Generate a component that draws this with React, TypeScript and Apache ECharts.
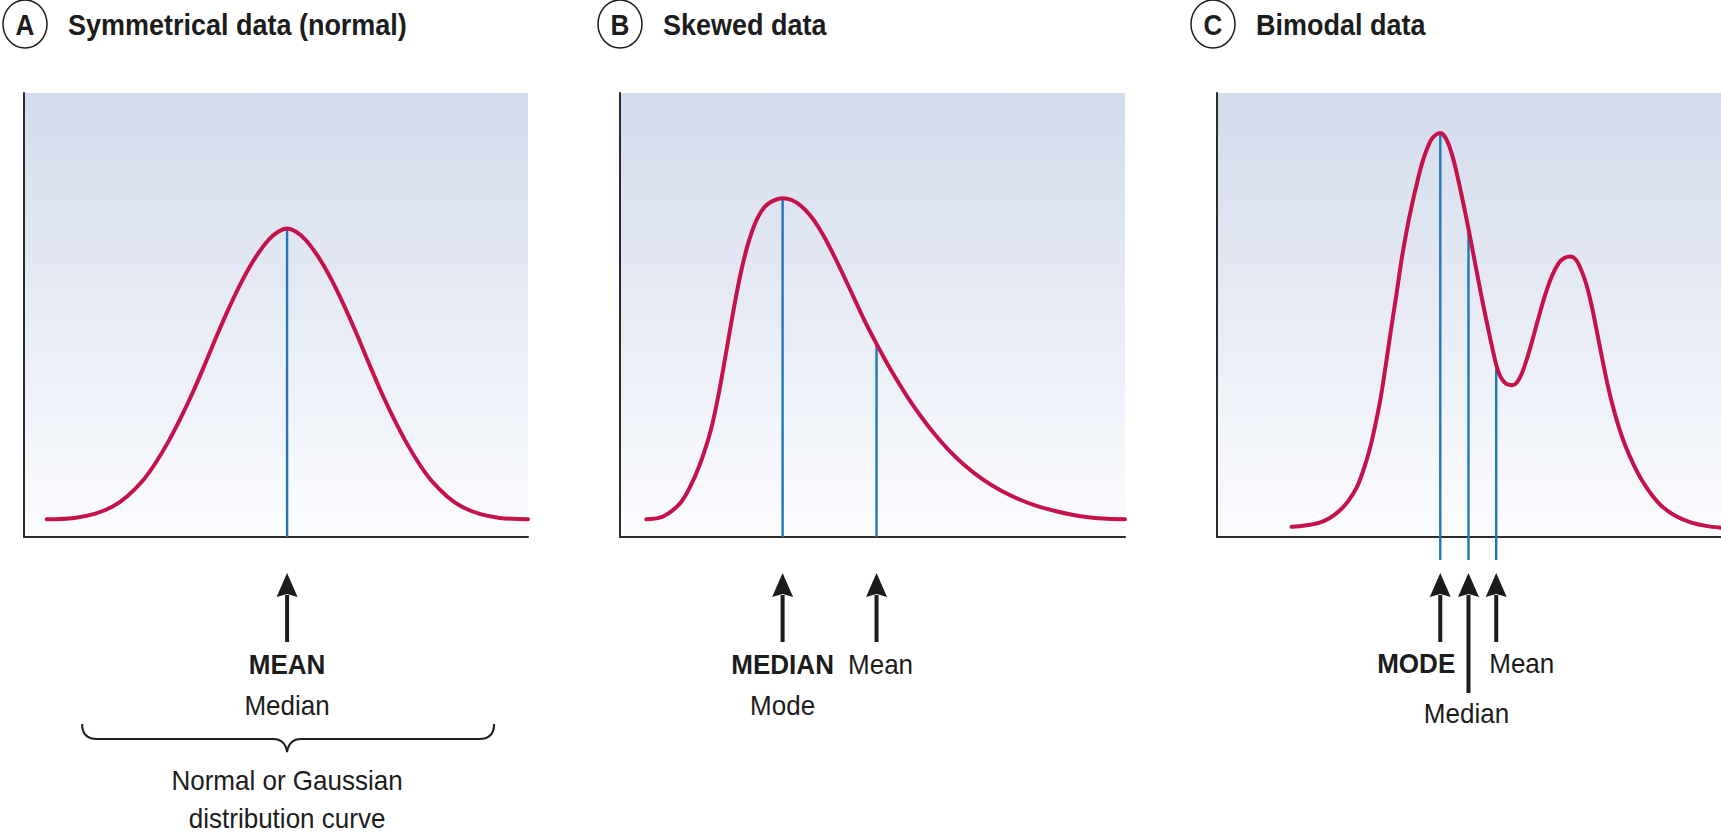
import React, { useEffect, useRef } from 'react';
import * as echarts from 'echarts';

// ---------- data ----------
const panelLetters = ['A', 'B', 'C'];
const panelTitles = ['Symmetrical data (normal)', 'Skewed data', 'Bimodal data'];

// Panel A: symmetrical (normal) curve, x 0..100, y 0..100
const curveA: number[][] = [
  [4.5, 4.0], [10, 4.3], [14, 5.2], [17.5, 6.8], [20.5, 9.2], [23.5, 12.6], [26, 16.5], [28.5, 21.2],
  [31, 26.6], [33.5, 32.6], [36, 39.2], [38.5, 46], [41, 52.4], [43.5, 58.2], [46, 63.1], [48.5, 66.9],
  [50.5, 68.8], [52.2, 69.5], [53.9, 68.8], [55.9, 66.9], [58.4, 63.1], [60.9, 58.2], [63.4, 52.4],
  [65.9, 46], [68.4, 39.2], [70.9, 32.6], [73.4, 26.6], [75.9, 21.2], [78.4, 16.5], [80.9, 12.6],
  [83.9, 9.2], [86.9, 6.8], [90.4, 5.2], [94.4, 4.3], [100, 4.0],
];

// Panel B: positively skewed curve
const curveB: number[][] = [
  [5.2, 4.0], [8, 4.4], [10.3, 5.9], [12.2, 8], [13.8, 11.1], [15.7, 16], [17.4, 21.7], [18.5, 26.5],
  [19.5, 32.0], [20.4, 37.6], [21.2, 42.8], [22.1, 48.7], [23.0, 54.3], [24.0, 59.9], [25.1, 65.0],
  [26.2, 69.0], [27.3, 72.0], [28.7, 74.4], [30.1, 75.6], [32.2, 76.3], [34.0, 75.9], [35.8, 74.6],
  [37.6, 72.5], [39.4, 69.6], [41.2, 66.0], [43.0, 61.9], [44.8, 57.6], [46.6, 53.2], [48.4, 48.8],
  [50.8, 43.5], [52.8, 39.3], [54.8, 35.4], [57.0, 31.4], [59.5, 27.3], [62.2, 23.3], [65.0, 19.7],
  [68.3, 16.1], [71.9, 12.9], [75.5, 10.4], [79.0, 8.5], [82.5, 7.0], [86.0, 5.9], [89.5, 5.0],
  [93.1, 4.4], [96.5, 4.1], [100, 4.0],
];

// Panel C: bimodal curve
const curveC: number[][] = [
  [14.8, 2.3], [17.5, 2.6], [20.2, 3.2], [22.4, 4.3], [24.3, 5.9], [26.1, 8.2], [27.7, 11.1],
  [29.1, 15.2], [30.4, 20.2], [31.5, 25.7], [32.5, 31.5], [33.5, 38.8], [34.5, 46.5], [35.6, 54.6],
  [36.6, 62.3], [37.6, 68.8], [38.6, 74.4], [39.7, 79.8], [40.7, 84.2], [41.7, 87.5], [42.7, 89.8],
  [44.3, 91.0], [45.2, 90.2], [46.1, 88.0], [47.0, 84.6], [47.9, 80.3], [48.9, 75.0], [49.9, 69.4],
  [50.9, 63.5], [51.9, 57.6], [52.9, 51.8], [53.9, 46.4], [54.7, 42.2], [55.4, 38.8], [56.2, 36.2],
  [57.0, 34.9], [57.8, 34.3], [58.6, 34.2], [59.5, 34.8], [60.4, 36.6], [61.4, 39.8], [62.5, 44.0],
  [63.8, 49.4], [65.1, 54.5], [66.5, 58.9], [67.8, 61.7], [69.0, 62.9], [70.1, 63.2], [71.1, 62.6],
  [72.1, 60.6], [73.2, 57.2], [74.2, 52.8], [75.2, 47.3], [76.2, 41.5], [77.2, 35.9], [78.3, 30.5],
  [79.6, 25.2], [81.0, 20.6], [82.7, 16.2], [84.4, 12.6], [86.4, 9.3], [88.5, 6.7], [91.2, 4.6],
  [94.0, 3.3], [97, 2.5], [100, 2.1],
];

// statistic positions (x) and curve heights there (y)
const statXA = [52.2];
const statYA = [69.5];
const statXB = [32.2, 50.8];
const statYB = [76.3, 43.5];
const statXC = [44.3, 49.9, 55.4];
const statYC = [91.0, 69.4, 38.8];
const statFloorC = -5.2; // bimodal stat lines run a little below the axis

const labelsA = ['MEAN', 'Median'];
const noteA = ['Normal or Gaussian', 'distribution curve'];
const labelsB = ['MEDIAN', 'Mode', 'Mean'];
const labelsC = ['MODE', 'Median', 'Mean'];

// ---------- styles ----------
const FONT = '"Liberation Sans", Arial, Helvetica, sans-serif';
const INK = '#1c1c1c';
const CURVE = '#c4124b';
const BLUE = '#1f77b8';
const AXIS = '#2b2b2b';

const GRIDS = [
  { left: 24, width: 504 },
  { left: 620, width: 505 },
  { left: 1217, width: 504 },
];
const GRID_TOP = 93;
const GRID_H = 444;

const txt = (x: number, y: number, text: string, bold: boolean, align = 'center', size = 28, sx = 0.93) => ({
  type: 'text',
  x,
  y,
  scaleX: sx,
  style: {
    text,
    fill: INK,
    fontFamily: FONT,
    fontSize: size,
    fontWeight: bold ? 'bold' : 'normal',
    align,
    verticalAlign: 'middle',
  },
});

const arrow = (px: number, py: number, long: boolean) => {
  const tip = py + 36;
  const base = py + 60;
  const end = py + (long ? 156 : 105);
  return [
    { type: 'rect', shape: { x: px - 2, y: base - 2, width: 4, height: end - base + 2 }, style: { fill: INK } },
    {
      type: 'polygon',
      shape: { points: [[px, tip], [px - 10.5, base], [px, base - 3], [px + 10.5, base]] },
      style: { fill: INK },
    },
  ];
};

function annotationSeries(panel: number, xs: number[], longIdx: number, extra: (api: any) => any[]) {
  return {
    type: 'custom',
    xAxisIndex: panel,
    yAxisIndex: panel,
    clip: false,
    silent: true,
    z: 6,
    data: xs.map((x) => [x]),
    renderItem: (params: any, api: any) => {
      const i = params.dataIndex;
      const p = api.coord([api.value(0), 0]);
      const children: any[] = arrow(p[0], p[1], i === longIdx);
      if (i === 0) children.push(...extra(api));
      return { type: 'group', children };
    },
  };
}

function statLines(panel: number, xs: number[], ys: number[], floor: number) {
  return xs.map((x, k) => ({
    type: 'line',
    xAxisIndex: panel,
    yAxisIndex: panel,
    data: [[x, floor], [x, ys[k]]],
    symbol: 'none',
    clip: false,
    silent: true,
    z: 3,
    lineStyle: { color: BLUE, width: 2.4 },
  }));
}

function curveSeries(panel: number, data: number[][]) {
  return {
    type: 'line',
    xAxisIndex: panel,
    yAxisIndex: panel,
    data,
    smooth: 0.35,
    symbol: 'none',
    silent: true,
    z: 4,
    lineStyle: { color: CURVE, width: 4, cap: 'round' },
  };
}

export default function App() {
  const ref = useRef<HTMLDivElement>(null);

  useEffect(() => {
    if (!ref.current) return;
    const chart = echarts.init(ref.current, undefined, { renderer: 'svg' });

    const bg = new echarts.graphic.LinearGradient(0, 0, 0, 1, [
      { offset: 0, color: '#d3dbec' },
      { offset: 1, color: '#fbfcfe' },
    ]);

    const grid = GRIDS.map((g) => ({
      left: g.left,
      top: GRID_TOP,
      width: g.width,
      height: GRID_H,
      show: true,
      backgroundColor: bg,
      borderWidth: 0,
      containLabel: false,
      outerBoundsMode: 'none',
    }));

    const axisCommon = {
      type: 'value',
      min: 0,
      max: 100,
      axisLabel: { show: false },
      axisTick: { show: false },
      splitLine: { show: false },
      axisLine: { show: true, onZero: false, lineStyle: { color: AXIS, width: 2 } },
    };

    const xAxis = GRIDS.map((_, i) => ({ ...axisCommon, gridIndex: i }));
    const yAxis = GRIDS.map((_, i) => ({ ...axisCommon, gridIndex: i }));

    const series: any[] = [
      curveSeries(0, curveA),
      curveSeries(1, curveB),
      curveSeries(2, curveC),
      ...statLines(0, statXA, statYA, 0),
      ...statLines(1, statXB, statYB, 0),
      ...statLines(2, statXC, statYC, statFloorC),
      annotationSeries(0, statXA, -1, (api) => {
        const [px, py] = api.coord([statXA[0], 0]);
        return [
          txt(px, py + 128, labelsA[0], true),
          txt(px, py + 169, labelsA[1], false),
          {
            type: 'path',
            shape: {
              pathData: `M ${px - 205} ${py + 187} Q ${px - 205} ${py + 202} ${px - 190} ${py + 202} L ${px - 14} ${py + 202} Q ${px - 2} ${py + 202} ${px} ${py + 215} Q ${px + 2} ${py + 202} ${px + 14} ${py + 202} L ${px + 192} ${py + 202} Q ${px + 207} ${py + 202} ${px + 207} ${py + 187}`,
            },
            style: { fill: 'none', stroke: INK, lineWidth: 2 },
          },
          txt(px, py + 244, noteA[0], false),
          txt(px, py + 282, noteA[1], false),
        ];
      }),
      annotationSeries(1, statXB, -1, (api) => {
        const [mx, py] = api.coord([statXB[0], 0]);
        const [nx] = api.coord([statXB[1], 0]);
        return [
          txt(mx, py + 128, labelsB[0], true),
          txt(mx, py + 169, labelsB[1], false),
          txt(nx + 4, py + 128, labelsB[2], false),
        ];
      }),
      annotationSeries(2, statXC, 1, (api) => {
        const [ox, py] = api.coord([statXC[0], 0]);
        const [dx] = api.coord([statXC[1], 0]);
        const [nx] = api.coord([statXC[2], 0]);
        return [
          txt(ox + 15, py + 127, labelsC[0], true, 'right'),
          txt(dx - 2, py + 177, labelsC[1], false),
          txt(nx - 7, py + 127, labelsC[2], false, 'left'),
        ];
      }),
    ];

    const titleX = [25, 620, 1213];
    const graphic: any[] = [];
    titleX.forEach((cx, i) => {
      graphic.push({
        type: 'ellipse',
        shape: { cx, cy: 24, rx: 22, ry: 24 },
        style: { fill: 'none', stroke: INK, lineWidth: 1.5 },
        silent: true,
      });
      graphic.push({
        type: 'text',
        x: cx,
        y: 25,
        scaleX: 0.9,
        style: {
          text: panelLetters[i],
          fill: INK,
          fontFamily: FONT,
          fontSize: 29,
          fontWeight: 'bold',
          align: 'center',
          verticalAlign: 'middle',
        },
        silent: true,
      });
      graphic.push({
        type: 'text',
        x: cx + 43,
        y: 24,
        scaleX: 0.9,
        style: {
          text: panelTitles[i],
          fill: INK,
          fontFamily: FONT,
          fontSize: 30,
          fontWeight: 'bold',
          align: 'left',
          verticalAlign: 'middle',
        },
        silent: true,
      });
    });

    chart.setOption({
      animation: false,
      backgroundColor: '#ffffff',
      grid,
      xAxis,
      yAxis,
      series,
      graphic,
    });

    return () => chart.dispose();
  }, []);

  return (
    <div
      ref={ref}
      style={{ position: 'absolute', left: 0, top: 0, width: 1721, height: 837, background: '#fff' }}
    />
  );
}
